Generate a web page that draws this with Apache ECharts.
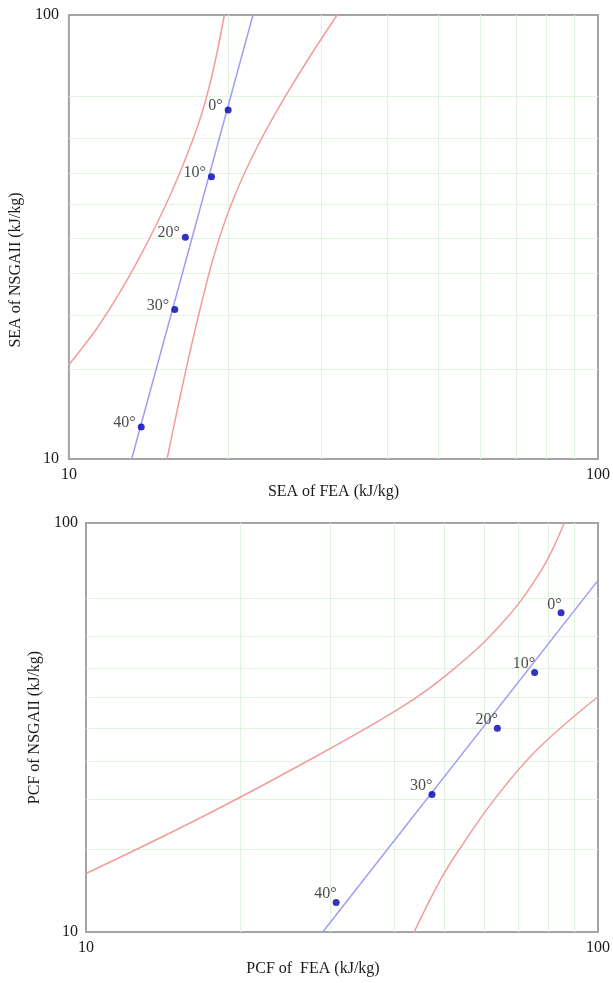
<!DOCTYPE html>
<html>
<head>
<meta charset="utf-8">
<script src="https://cdn.jsdelivr.net/npm/echarts@6/dist/echarts.min.js"></script>
<style>
html,body{margin:0;padding:0;background:#fff;}
#chart{width:613px;height:983px;}
</style>
</head>
<body>
<div id="chart"></div>
<script>
// ---- data ----
const angleLabels = ['0°', '10°', '20°', '30°', '40°'];
const axisTicks = [10, 100];

// SEA chart (top)
const seaFEA = [20.0, 18.6, 16.6, 15.85, 13.7];
const seaNSGA = [61.1, 43.2, 31.6, 21.7, 11.8];
const seaFitX = [13.14, 22.28];
const seaFitY = [10, 100];
const seaUpperX = [10.0, 11.24, 12.40, 13.52, 14.62, 15.70, 16.72, 17.67, 18.45, 19.1, 19.67];
const seaUpperY = [16.3, 19.52, 23.41, 28.07, 33.65, 40.36, 48.38, 58.0, 69.56, 83.4, 100];
const seaLowerX = [15.33, 16.04, 16.82, 17.70, 18.72, 20.11, 22.11, 24.84, 28.35, 32.13];
const seaLowerY = [10, 12.96, 16.80, 21.77, 28.22, 36.57, 47.39, 61.42, 79.6, 100];

// PCF chart (bottom)
const pcfFEA = [84.7, 75.2, 63.6, 47.4, 30.8];
const pcfNSGA = [60.3, 43.1, 31.5, 21.7, 11.8];
const pcfFitX = [29.0, 100];
const pcfFitY = [10, 72.4];
const pcfUpperX = [10, 16.7, 26.2, 41.1, 51.4, 64.4, 77.1, 85.9];
const pcfUpperY = [13.9, 19.0, 25.6, 35.3, 43.2, 56.2, 75.8, 100];
const pcfLowerX = [43.75, 49.2, 54.1, 63.3, 76.0, 100];
const pcfLowerY = [10, 13.4, 16.2, 21.4, 27.9, 37.6];

// faint grid lines
const gridX = [20, 30, 40, 50, 60, 70, 80, 90];
const gridY = [15.9, 21.1, 26.2, 31.5, 37.5, 44.1, 52.8, 65.5];

// ---- helpers ----
const FONT = 'Liberation Serif';
const FS = 16;
const TXT = '#1a1a1a';
const zip = (xs, ys) => xs.map((x, i) => [x, ys[i]]);

function xAxisCfg(idx, name, gap, pad) {
  return {
    gridIndex: idx, type: 'log', logBase: 10, min: axisTicks[0], max: axisTicks[1],
    axisLine: {show: false}, axisTick: {show: false}, splitLine: {show: false},
    axisLabel: {margin: 8, color: TXT, fontSize: FS, fontFamily: FONT},
    name: name, nameLocation: 'middle', nameGap: gap,
    nameTextStyle: {color: TXT, fontSize: FS, fontFamily: FONT, padding: pad}
  };
}
function yAxisCfg(idx, name, gap, pad, margin) {
  return {
    gridIndex: idx, type: 'log', logBase: 10, min: axisTicks[0], max: axisTicks[1],
    axisLine: {show: false}, axisTick: {show: false}, splitLine: {show: false},
    axisLabel: {margin: margin, color: TXT, fontSize: FS, fontFamily: FONT},
    name: name, nameLocation: 'middle', nameGap: gap,
    nameTextStyle: {color: TXT, fontSize: FS, fontFamily: FONT, padding: pad}
  };
}

function gridSeries(idx) {
  return {
    type: 'line', xAxisIndex: idx, yAxisIndex: idx, data: [], silent: true,
    markLine: {
      silent: true, z: 1, symbol: ['none', 'none'], animation: false,
      label: {show: false},
      lineStyle: {color: '#e0f4e0', width: 1, type: 'solid'},
      data: gridX.map(v => ({xAxis: v})).concat(gridY.map(v => ({yAxis: v})))
    }
  };
}
function lineSeries(idx, xs, ys, color, smooth) {
  return {
    type: 'line', xAxisIndex: idx, yAxisIndex: idx, data: zip(xs, ys),
    showSymbol: false, symbol: 'none', smooth: smooth, z: 3, silent: true,
    lineStyle: {color: color, width: 1.5}
  };
}
function pointSeries(idx, xs, ys, labelCfg) {
  return {
    type: 'scatter', xAxisIndex: idx, yAxisIndex: idx, z: 5,
    symbol: 'circle', symbolSize: 7,
    itemStyle: {color: '#0000b4'},
    data: xs.map((x, i) => ({name: angleLabels[i], value: [x, ys[i]]})),
    label: Object.assign({show: true, formatter: '{b}', color: TXT, fontSize: FS, fontFamily: FONT}, labelCfg)
  };
}

const RED = '#f29c9c';
const BLUE = '#9e9ef2';

const option = {
  animation: false,
  backgroundColor: '#fff',
  grid: [
    {left: 67, top: 15, width: 533, height: 444, show: true, borderColor: '#a4a4a4', borderWidth: 2, backgroundColor: '#fff'},
    {left: 86, top: 523, width: 512, height: 409, show: true, borderColor: '#a4a4a4', borderWidth: 2, backgroundColor: '#fff'}
  ],
  xAxis: [
    xAxisCfg(0, 'SEA of FEA (kJ/kg)', 15, [0, 0, 0, 0]),
    xAxisCfg(1, 'PCF of  FEA (kJ/kg)', 29, [0, 58, 0, 0])
  ],
  yAxis: [
    yAxisCfg(0, 'SEA of NSGAII (kJ/kg)', 39, [0, 66, 0, 0], 10),
    yAxisCfg(1, 'PCF of NSGAII (kJ/kg)', 35, [0, 0, 0, 0], 8)
  ],
  series: [
    gridSeries(0),
    gridSeries(1),
    lineSeries(0, seaUpperX, seaUpperY, RED, 0.3),
    lineSeries(0, seaLowerX, seaLowerY, RED, 0.3),
    lineSeries(0, seaFitX, seaFitY, BLUE, false),
    pointSeries(0, seaFEA, seaNSGA, {position: 'left', distance: 2, offset: [0, -4]}),
    lineSeries(1, pcfUpperX, pcfUpperY, RED, 0.4),
    lineSeries(1, pcfLowerX, pcfLowerY, RED, 0.4),
    lineSeries(1, pcfFitX, pcfFitY, BLUE, false),
    pointSeries(1, pcfFEA, pcfNSGA, {position: [4, 3], align: 'right', verticalAlign: 'bottom'})
  ]
};

const chart = echarts.init(document.getElementById('chart'), null, {renderer: 'canvas'});
chart.setOption(option);
</script>
</body>
</html>
